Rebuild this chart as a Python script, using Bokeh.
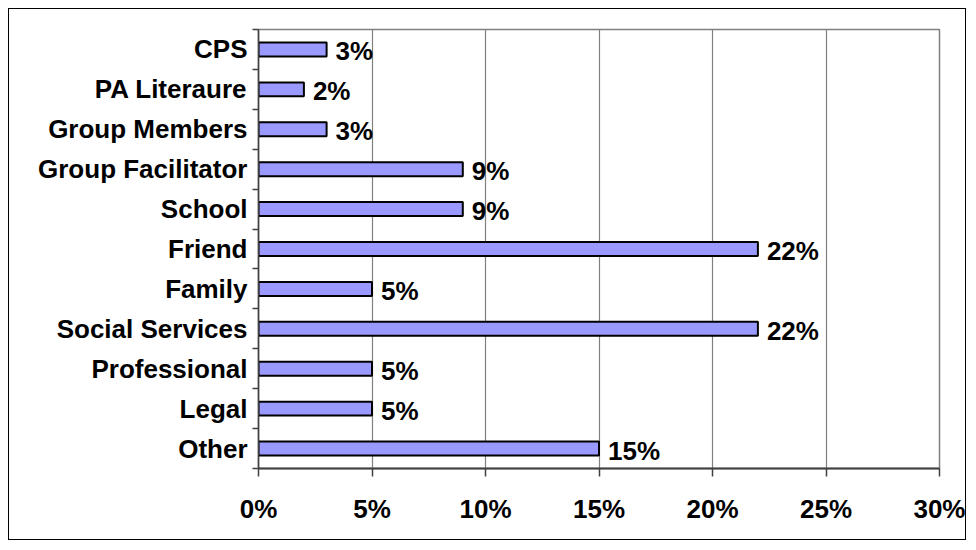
from bokeh.plotting import figure
from bokeh.models import Range1d, FixedTicker
from bokeh.core.properties import value
from bokeh.embed import file_html
from bokeh.resources import INLINE

categories = ["CPS", "PA Literaure", "Group Members", "Group Facilitator", "School",
              "Friend", "Family", "Social Services", "Professional", "Legal", "Other"]
values = [3, 2, 3, 9, 9, 22, 5, 22, 5, 5, 15]
value_labels = ["3%", "2%", "3%", "9%", "9%", "22%", "5%", "22%", "5%", "5%", "15%"]
x_ticks = [0, 5, 10, 15, 20, 25, 30]
x_tick_labels = ["0%", "5%", "10%", "15%", "20%", "25%", "30%"]

n = len(categories)
# top category first: position from top
ypos = [n - 0.5 - i for i in range(n)]

FONT = "Liberation Sans"

p = figure(width=958, height=532, output_backend="svg", toolbar_location=None,
           x_range=Range1d(0, 30), y_range=Range1d(0, n),
           min_border_left=249, min_border_right=28, min_border_top=20, min_border_bottom=73,
           background_fill_color="white", border_fill_color="white",
           styles={"border": "1px solid black", "margin": "8px"})

p.outline_line_color = "#808080"
p.outline_line_width = 1.5

p.hbar(y=ypos, left=0, right=values, height=0.35, fill_color="#9999FF",
       line_color="black", line_width=2)

p.text(x=values, y=ypos, text=value_labels, x_offset=9, y_offset=2,
       text_baseline="middle", text_align="left",
       text_font=value(FONT), text_font_style="bold", text_font_size="26px",
       text_color="black")

# x axis
p.xaxis.ticker = FixedTicker(ticks=x_ticks)
p.xaxis.major_label_overrides = {t: l for t, l in zip(x_ticks, x_tick_labels)}
p.xaxis.major_label_text_font = FONT
p.xaxis.major_label_text_font_style = "bold"
p.xaxis.major_label_text_font_size = "26px"
p.xaxis.major_label_text_color = "black"
p.xaxis.major_label_standoff = 17
p.xaxis.major_tick_out = 8
p.xaxis.major_tick_in = 0
p.xaxis.minor_tick_out = 0
p.xaxis.axis_line_color = "#404040"
p.xaxis.axis_line_width = 2
p.xaxis.major_tick_line_color = "#404040"
p.xaxis.major_tick_line_width = 1.5

# y axis: labels at band centers, ticks at band boundaries
p.yaxis.ticker = FixedTicker(ticks=ypos, minor_ticks=list(range(n + 1)))
p.yaxis.major_label_overrides = {y: c for y, c in zip(ypos, categories)}
p.yaxis.major_label_text_font = FONT
p.yaxis.major_label_text_font_style = "bold"
p.yaxis.major_label_text_font_size = "26px"
p.yaxis.major_label_text_color = "black"
p.yaxis.major_label_standoff = 5
p.yaxis.major_tick_out = 0
p.yaxis.major_tick_in = 0
p.yaxis.minor_tick_out = 6
p.yaxis.minor_tick_in = 0
p.yaxis.minor_tick_line_color = "#404040"
p.yaxis.minor_tick_line_width = 1.5
p.yaxis.axis_line_color = "#404040"
p.yaxis.axis_line_width = 1.5

p.xgrid.ticker = FixedTicker(ticks=x_ticks)
p.xgrid.grid_line_color = "#808080"
p.xgrid.grid_line_width = 1.2
p.ygrid.grid_line_color = None

open("out.html", "w").write(file_html(p, INLINE))
